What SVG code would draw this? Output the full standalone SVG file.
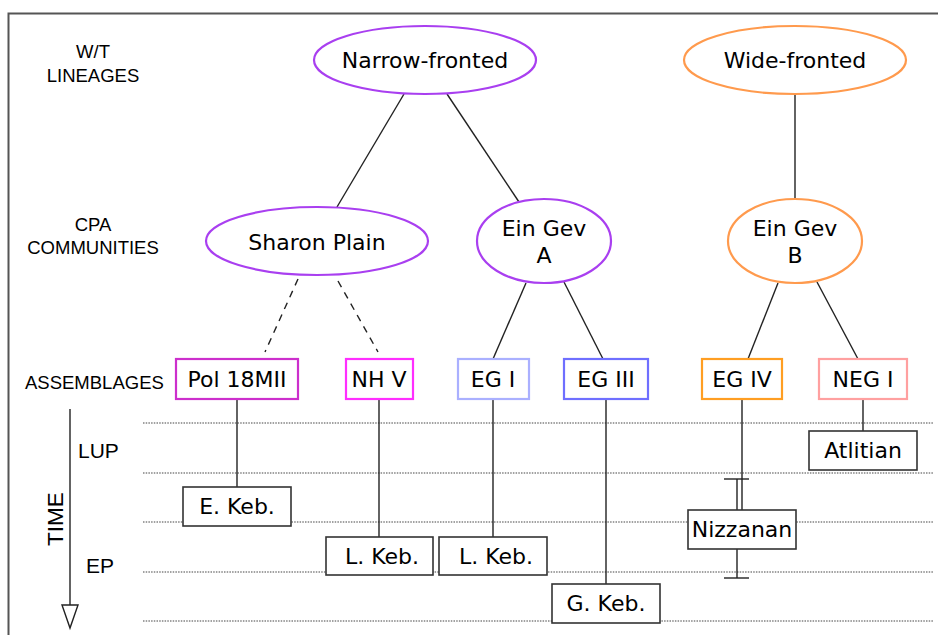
<svg xmlns="http://www.w3.org/2000/svg" width="938" height="635" viewBox="0 0 938 635">
<style>
.lbl{font-family:"Liberation Sans",Arial,sans-serif;font-size:18.5px;fill:#000}
.big{font-size:21px}
.nt{font-family:"DejaVu Sans",Verdana,sans-serif;font-size:22px;fill:#000;text-anchor:middle}
.ep{fill:#fff;stroke-width:2.2}
.bx{fill:#fff;stroke-width:2.2}
.tb{fill:#fff;stroke:#333;stroke-width:1.6}
.ln{stroke:#222;stroke-width:1.4;fill:none}
.dot{stroke:#444;stroke-width:1.2;stroke-dasharray:1.5 1.2;fill:none}
</style>
<rect width="938" height="635" fill="#fff"/>
<path d="M8.5 640 V13.5 H945" fill="none" stroke="#555" stroke-width="2"/>
<g id="axis-labels">
<text class="lbl" x="93" y="58" text-anchor="middle">W/T</text>
<text class="lbl" x="93" y="82" text-anchor="middle">LINEAGES</text>
<text class="lbl" x="93" y="231" text-anchor="middle">CPA</text>
<text class="lbl" x="93" y="254" text-anchor="middle">COMMUNITIES</text>
<text class="lbl" x="25" y="389">ASSEMBLAGES</text>
<text class="lbl big" x="78" y="458">LUP</text>
<text class="lbl big" x="86" y="573">EP</text>
<text class="lbl" style="font-size:22.5px" transform="translate(63,519) rotate(-90)" text-anchor="middle">TIME</text>
</g>
<g id="time-lines">
<line class="dot" x1="143" y1="423" x2="933" y2="423"/>
<line class="dot" x1="143" y1="473" x2="933" y2="473"/>
<line class="dot" x1="143" y1="522" x2="933" y2="522"/>
<line class="dot" x1="143" y1="572" x2="933" y2="572"/>
<line class="dot" x1="143" y1="621" x2="933" y2="621"/>
<line x1="70" y1="409" x2="70" y2="606" stroke="#222" stroke-width="1.4"/>
<polygon points="62,605 78,605 70,628" fill="#fff" stroke="#222" stroke-width="1.4"/>
</g>
<g id="connectors">
<line class="ln" x1="404" y1="94" x2="337" y2="207"/>
<line class="ln" x1="447" y1="94" x2="519" y2="202"/>
<line class="ln" x1="795" y1="94" x2="795" y2="199"/>
<line class="ln" x1="298" y1="279" x2="265" y2="352" stroke-dasharray="7 6"/>
<line class="ln" x1="338" y1="281" x2="378" y2="352" stroke-dasharray="7 6"/>
<line class="ln" x1="526" y1="283" x2="493" y2="359"/>
<line class="ln" x1="564" y1="282" x2="603" y2="359"/>
<line class="ln" x1="778" y1="283" x2="748" y2="359"/>
<line class="ln" x1="817" y1="282" x2="858" y2="359"/>
<line class="ln" x1="237" y1="399" x2="237" y2="487"/>
<line class="ln" x1="379" y1="399" x2="379" y2="537"/>
<line class="ln" x1="493" y1="399" x2="493" y2="537"/>
<line class="ln" x1="606" y1="399" x2="606" y2="584"/>
<line class="ln" x1="742" y1="399" x2="742" y2="510"/>
<line class="ln" x1="863" y1="399" x2="863" y2="431"/>
<line class="ln" x1="737" y1="479" x2="737" y2="510"/>
<line class="ln" x1="724" y1="479" x2="749" y2="479"/>
<line class="ln" x1="737" y1="549" x2="737" y2="578"/>
<line class="ln" x1="724" y1="578" x2="749" y2="578"/>
</g>
<g id="narrow-fronted"><ellipse class="ep" cx="425" cy="60" rx="111" ry="34" stroke="#a93ff0"/><text class="nt" x="425" y="68">Narrow-fronted</text></g>
<g id="wide-fronted"><ellipse class="ep" cx="795" cy="60" rx="111" ry="34" stroke="#ff9a4d"/><text class="nt" x="795" y="68">Wide-fronted</text></g>
<g id="sharon-plain"><ellipse class="ep" cx="317" cy="241" rx="111" ry="34" stroke="#a93ff0"/><text class="nt" x="317" y="250">Sharon Plain</text></g>
<g id="ein-gev-a"><ellipse class="ep" cx="544" cy="241" rx="67" ry="42" stroke="#a93ff0"/><text class="nt" x="544" y="236">Ein Gev</text><text class="nt" x="544" y="263">A</text></g>
<g id="ein-gev-b"><ellipse class="ep" cx="795" cy="241" rx="67" ry="42" stroke="#ff9a4d"/><text class="nt" x="795" y="236">Ein Gev</text><text class="nt" x="795" y="263">B</text></g>
<g id="pol-18mii"><rect class="bx" x="176" y="359" width="122" height="40" stroke="#cc2fcc"/><text class="nt" x="237" y="387">Pol 18MII</text></g>
<g id="nh-v"><rect class="bx" x="346" y="359" width="67" height="40" stroke="#ff2eff"/><text class="nt" x="379" y="387">NH V</text></g>
<g id="eg-i"><rect class="bx" x="458" y="359" width="71" height="40" stroke="#aab0ff"/><text class="nt" x="493" y="387">EG I</text></g>
<g id="eg-iii"><rect class="bx" x="564" y="359" width="84" height="40" stroke="#6f6fff"/><text class="nt" x="606" y="387">EG III</text></g>
<g id="eg-iv"><rect class="bx" x="702" y="359" width="80" height="40" stroke="#ff9e22"/><text class="nt" x="742" y="387">EG IV</text></g>
<g id="neg-i"><rect class="bx" x="819" y="359" width="88" height="40" stroke="#ffa0a0"/><text class="nt" x="863" y="387">NEG I</text></g>
<g id="e-keb"><rect class="tb" x="183" y="487" width="108" height="39"/><text class="nt" x="237" y="514">E. Keb.</text></g>
<g id="l-keb-1"><rect class="tb" x="326" y="537" width="107" height="38"/><text class="nt" x="382" y="564">L. Keb.</text></g>
<g id="l-keb-2"><rect class="tb" x="439" y="537" width="108" height="38"/><text class="nt" x="496" y="564">L. Keb.</text></g>
<g id="g-keb"><rect class="tb" x="552" y="584" width="108" height="39"/><text class="nt" x="606" y="611">G. Keb.</text></g>
<g id="nizzanan"><rect class="tb" x="688" y="510" width="108" height="39"/><text class="nt" x="742" y="537">Nizzanan</text></g>
<g id="atlitian"><rect class="tb" x="809" y="431" width="108" height="39"/><text class="nt" x="863" y="458">Atlitian</text></g>
</svg>
